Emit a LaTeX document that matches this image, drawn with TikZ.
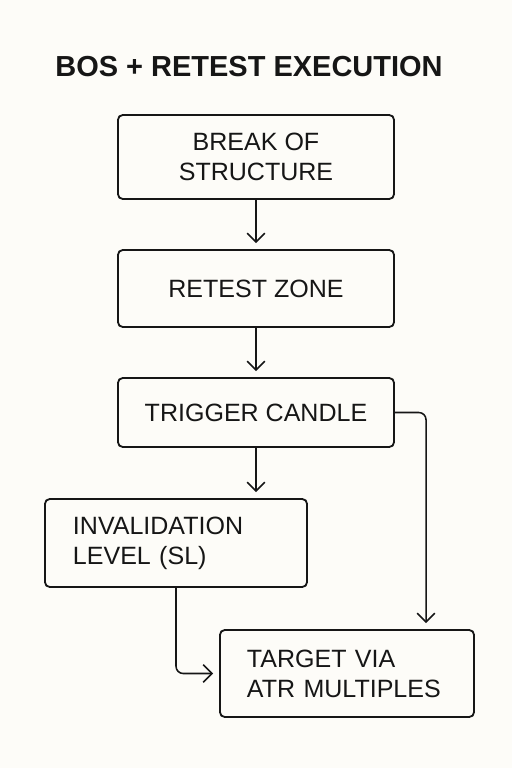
\documentclass[tikz,border=0pt]{standalone}
\usepackage{fontspec}
\setmainfont{Liberation Sans}
\usepackage{xcolor}
\definecolor{bgpaper}{RGB}{253, 252, 248}
\definecolor{inkblack}{RGB}{22, 22, 22}
\usetikzlibrary{arrows.meta, positioning}

\begin{document}
\begin{tikzpicture}[x=0.025cm, y=-0.025cm,
    >={Straight Barb[length=2.2mm, width=4.4mm]},
    stepbox/.style={draw=inkblack, line width=1.3pt, rounded corners=0.12cm,
        text=inkblack, inner sep=0pt, font=\fontsize{17.8pt}{21.3pt}\selectfont},
    flow/.style={->, line width=1.1pt, inkblack, rounded corners=0.18cm,
        shorten >=0.15cm}]

% === Fondo (fija los márgenes) ===
\fill[bgpaper] (0,0) rectangle (512,768);
\useasboundingbox (0,0) rectangle (512,768);

% === Título ===
\node[anchor=base, text=inkblack, font=\bfseries\fontsize{20.6pt}{24pt}\selectfont]
    (title) at (249,77) {BOS + RETEST EXECUTION};

% === Pasos del flujo ===
\node[stepbox, minimum width=6.9cm, minimum height=2.1cm, align=center]
    (break) at (256,157) {BREAK OF\\STRUCTURE};
\node[stepbox, minimum width=6.9cm, minimum height=1.925cm]
    (retest) at (256,288.5) {RETEST ZONE};
\node[stepbox, minimum width=6.9cm, minimum height=1.725cm]
    (trigger) at (256,412.5) {TRIGGER CANDLE};

% Salidas: stop y objetivo (texto alineado a la izquierda)
\node[stepbox, minimum height=2.2cm, text width=5.15cm, inner xsep=0.7cm, align=left]
    (invalid) at (176,543) {INVALIDATION\\LEVEL (SL)};
\node[stepbox, minimum height=2.175cm, text width=5cm, inner xsep=0.675cm, align=left]
    (target) at (347,673.5) {TARGET VIA\\ATR MULTIPLES};

% === Conectores ===
\draw[flow] (break) -- (retest);
\draw[flow] (retest) -- (trigger);
\draw[flow] (trigger.south) -- (trigger.south |- invalid.north);

% Gatillo -> objetivo (por la derecha)
\draw[flow] (trigger.east) -| ([xshift=1.975cm]target.north);

% Invalidación -> objetivo
\draw[flow] (invalid.south) |- (target.west);

\end{tikzpicture}
\end{document}
